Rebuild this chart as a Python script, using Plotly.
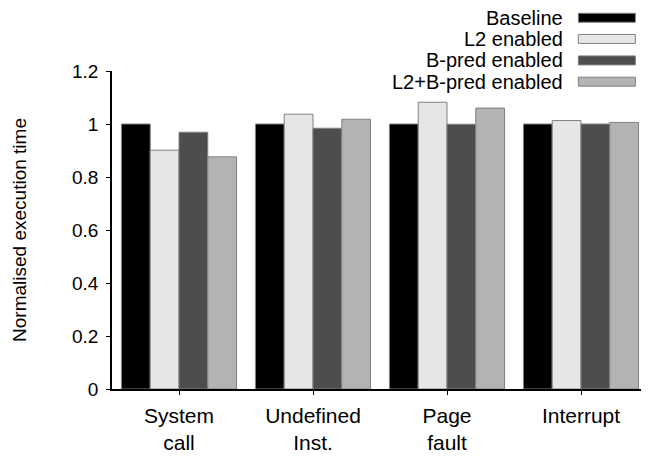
import plotly.graph_objects as go

categories = ["System<br>call", "Undefined<br>Inst.", "Page<br>fault", "Interrupt"]
series_names = ["Baseline", "L2 enabled", "B-pred enabled", "L2+B-pred enabled"]
baseline = [1.0, 1.0, 1.0, 1.0]
l2_enabled = [0.901, 1.037, 1.082, 1.013]
bpred_enabled = [0.969, 0.984, 0.999, 1.0]
l2_bpred_enabled = [0.876, 1.018, 1.060, 1.006]
series_values = [baseline, l2_enabled, bpred_enabled, l2_bpred_enabled]
colors = ["#000000", "#e6e6e6", "#4d4d4d", "#b3b3b3"]
y_ticks = [0, 0.2, 0.4, 0.6, 0.8, 1.0, 1.2]
y_ticktext = ["0", "0.2", "0.4", "0.6", "0.8", "1", "1.2"]

FONT = "Liberation Sans, Arial, Helvetica, sans-serif"

# page body has an 8px default margin; figure sized to fit the window
OFF = 8
W, H = 649 - OFF, 461 - OFF
PL, PR, PT, PB = 112, 647.6, 70.6, 389  # plot area in page pixels

fig = go.Figure()
for name, vals, col in zip(series_names, series_values, colors):
    fig.add_trace(go.Bar(
        x=categories, y=vals, name=name,
        marker=dict(color=col, line=dict(color="#808080", width=1)),
        showlegend=False,
    ))

# Manual legend: right-aligned text with swatch on the right
row_centers = [17.3, 38.5, 60, 81.3]
def px(xp):
    return (xp - PL) / (PR - PL)
def py(yp):
    return (PB - yp) / (PB - PT)

for name, col, yc in zip(series_names, colors, row_centers):
    fig.add_annotation(
        xref="paper", yref="paper",
        x=px(565), y=py(yc),
        text=name, showarrow=False, xanchor="right", yanchor="middle",
        font=dict(family=FONT, size=20, color="#000"),
    )
    fig.add_shape(
        type="rect", xref="paper", yref="paper",
        x0=px(578), x1=px(635),
        y0=py(yc + 4.5), y1=py(yc - 4.5),
        fillcolor=col, line=dict(color="#808080", width=1),
    )

fig.update_layout(
    width=W, height=H,
    margin=dict(l=PL - OFF, r=649 - PR, t=PT - OFF, b=461 - PB, pad=0),
    paper_bgcolor="white", plot_bgcolor="white",
    barmode="group", bargap=0.141, bargroupgap=0,
    font=dict(family=FONT, size=20, color="#000"),
    xaxis=dict(
        showline=True, linecolor="#000", linewidth=1.5,
        ticks="outside", ticklen=4, tickcolor="#000",
        tickfont=dict(size=21), showgrid=False, zeroline=False,
        ticklabelstandoff=3,
    ),
    yaxis=dict(
        range=[0, 1.2], tickvals=y_ticks, ticktext=y_ticktext,
        showline=True, linecolor="#000", linewidth=1.5,
        ticks="outside", ticklen=4, tickcolor="#000",
        tickfont=dict(size=19), showgrid=False, zeroline=False,
        ticklabelstandoff=4,
        title=dict(text="Normalised execution time", font=dict(size=19), standoff=40),
    ),
)

fig.write_html("out.html")
